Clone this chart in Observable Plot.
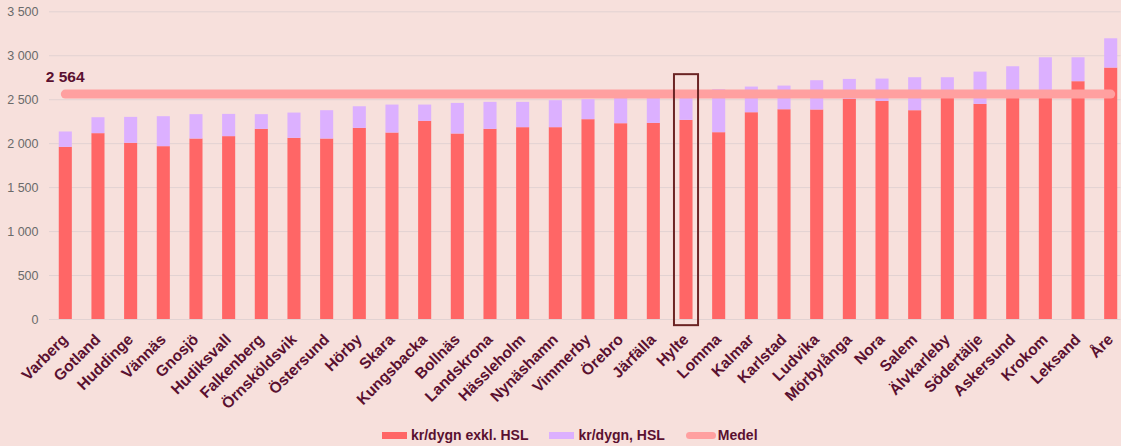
<!DOCTYPE html>
<html><head><meta charset="utf-8">
<script src="https://cdn.jsdelivr.net/npm/d3@7"></script>
<script src="https://cdn.jsdelivr.net/npm/@observablehq/plot@0.6"></script>
<style>
html,body{margin:0;padding:0;background:#f7e0dc;}
body{width:1121px;height:446px;overflow:hidden;font-family:"Liberation Sans",Arial,sans-serif;}
#legend{display:flex;align-items:center;height:20px;margin-top:10px;padding-left:382px;font-size:14px;font-weight:bold;color:#5a1030;}
#legend .item{display:flex;align-items:center;margin-right:21px;}
#legend .sw{width:25px;height:7px;margin-right:4px;}
</style></head><body>
<div id="chart"></div>
<div id="legend"></div>
<script>
const categories = ["Varberg","Gotland","Huddinge","Vännäs","Gnosjö","Hudiksvall","Falkenberg","Örnsköldsvik","Östersund","Hörby","Skara","Kungsbacka","Bollnäs","Landskrona","Hässleholm","Nynäshamn","Vimmerby","Örebro","Järfälla","Hylte","Lomma","Kalmar","Karlstad","Ludvika","Mörbylånga","Nora","Salem","Älvkarleby","Södertälje","Askersund","Krokom","Leksand","Åre"];
const exklHSL = [1958,2114,2004,1966,2053,2080,2163,2061,2053,2174,2121,2254,2110,2163,2182,2182,2273,2227,2231,2265,2125,2352,2386,2383,2504,2481,2375,2540,2447,2550,2560,2705,2860];
const hsl = [175,181,295,341,277,253,167,287,322,246,318,185,348,307,288,307,227,293,289,255,489,292,269,333,227,254,375,210,367,325,417,272,333];
const medel = 2564;
const yTicks = [0,500,1000,1500,2000,2500,3000,3500];
const seriesNames = ["kr/dygn exkl. HSL","kr/dygn, HSL","Medel"];
const seriesColors = ["#ff6666","#dcb0ff","#ffa0a0"];
const highlight = "Hylte";
const highlightSpan = [-70, 2785];

const rows = categories.flatMap((c, i) => [
  {cat: c, series: seriesNames[0], value: exklHSL[i]},
  {cat: c, series: seriesNames[1], value: hsl[i]}
]);
const fmt = d => d3.format(",")(d).replace(/,/g, " ");
const textColor = "#5a1030";
const bandHalf = 0.4 * (1121 - 0.5 - 49 - 6.5) / (categories.length - 0.6 + 0.2) / 2;

const chart = Plot.plot({
  width: 1121, height: 415,
  marginLeft: 49, marginRight: 0.5, marginTop: 11.3, marginBottom: 96,
  style: {background: "transparent", fontFamily: "'Liberation Sans', Arial, sans-serif"},
  x: {domain: categories, paddingInner: 0.6, paddingOuter: 0.1, insetLeft: 6.5, round: false, label: null, axis: null},
  y: {domain: [0, 3500], label: null},
  color: {domain: seriesNames.slice(0, 2), range: seriesColors.slice(0, 2)},
  marks: [
    Plot.gridY(yTicks, {stroke: "#e2d2d2", strokeOpacity: 1}),
    Plot.axisY(yTicks, {tickSize: 0, tickPadding: 11, tickFormat: fmt, fill: "#6a6a6a", fontSize: 12.5, label: null}),
    Plot.barY(rows, {x: "cat", y: "value", fill: "series"}),
    Plot.ruleY([medel], {x1: () => categories[0], x2: () => categories[categories.length - 1], y: d => d, stroke: seriesColors[2], strokeWidth: 9, strokeLinecap: "round", insetLeft: bandHalf, insetRight: bandHalf}),
    Plot.text([medel], {x: () => categories[0], y: d => d, text: d => fmt(d), dx: -20, dy: -12, lineAnchor: "bottom", textAnchor: "start", fontWeight: "bold", fontSize: 15.5, fill: textColor}),
    Plot.barY([highlight], {x: d => d, y1: () => highlightSpan[0], y2: () => highlightSpan[1], fill: "none", stroke: "#6b2424", strokeWidth: 2, insetLeft: -5.5, insetRight: -5.5}),
    Plot.text(categories, {x: d => d, y: () => 0, text: d => d, rotate: -45, textAnchor: "end", lineAnchor: "bottom", dx: 3, dy: 21, fontSize: 15.5, fontWeight: "bold", fill: textColor})
  ]
});
document.getElementById("chart").appendChild(chart);

const legend = document.getElementById("legend");
seriesNames.forEach((name, i) => {
  const item = document.createElement("div");
  item.className = "item";
  const sw = document.createElement("span");
  sw.className = "sw";
  sw.style.background = seriesColors[i];
  if (i === 2) { sw.style.width = "30px"; sw.style.borderRadius = "4px"; sw.style.marginRight = "2px"; }
  const t = document.createElement("span");
  t.textContent = name;
  item.appendChild(sw); item.appendChild(t);
  legend.appendChild(item);
});
</script>
</body></html>
